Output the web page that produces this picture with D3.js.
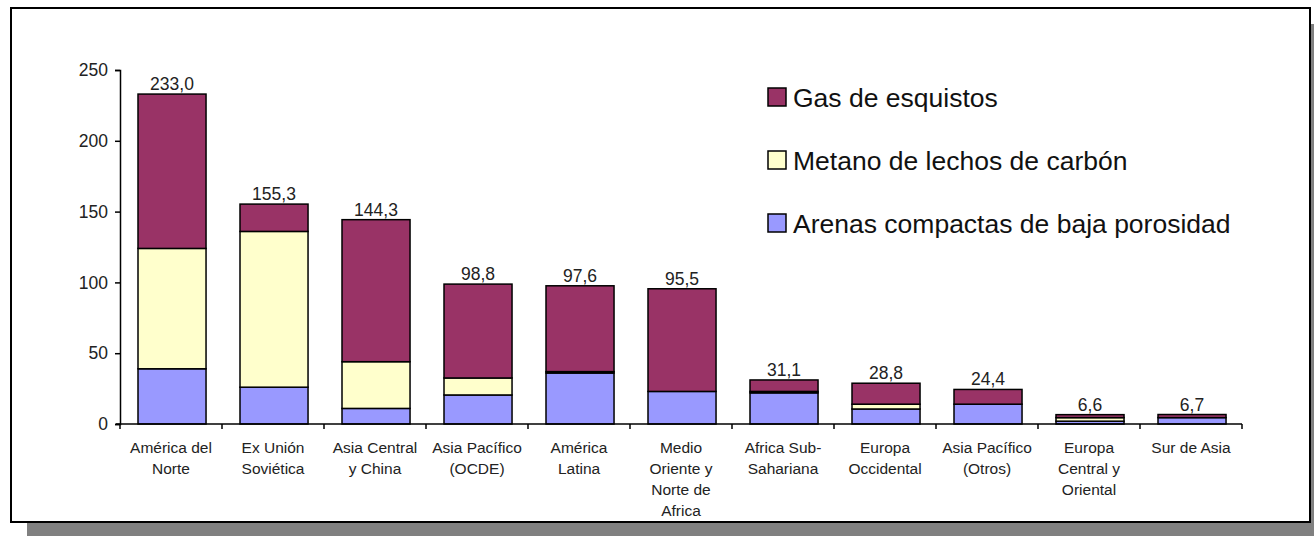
<!DOCTYPE html>
<html>
<head>
<meta charset="utf-8">
<script src="https://cdn.jsdelivr.net/npm/d3@7"></script>
<style>
  body { margin: 0; background: #fff; }
  text { font-family: "Liberation Sans", Arial, sans-serif; }
</style>
</head>
<body>
<script>
// data
const categories = [
    ["América del", "Norte"],
    ["Ex Unión", "Soviética"],
    ["Asia Central", "y China"],
    ["Asia Pacífico", "(OCDE)"],
    ["América", "Latina"],
    ["Medio", "Oriente y", "Norte de", "Africa"],
    ["Africa Sub-", "Sahariana"],
    ["Europa", "Occidental"],
    ["Asia Pacífico", "(Otros)"],
    ["Europa", "Central y", "Oriental"],
    ["Sur de Asia"]
];
const totals = ["233,0", "155,3", "144,3", "98,8", "97,6", "95,5", "31,1", "28,8", "24,4", "6,6", "6,7"];
const arenas = [39, 26, 11, 20.5, 36, 23, 22, 10.6, 14, 2, 4.5];
const metano = [85, 110, 33, 12, 1, 0, 1, 3.4, 0, 2.5, 0];
const esquistos = [109, 19.3, 100.3, 66.3, 60.6, 72.5, 8.1, 14.8, 10.4, 2.1, 2.2];
const seriesNames = ["Arenas compactas de baja porosidad", "Metano de lechos de carbón", "Gas de esquistos"];
const seriesColors = ["#9999ff", "#ffffcc", "#993366"];
const yTicks = [0, 50, 100, 150, 200, 250];

const width = 1314, height = 536;
const svg = d3.select("body").append("svg")
    .attr("width", width)
    .attr("height", height);

// shadow + frame
svg.append("rect")
    .attr("x", 27).attr("y", 24)
    .attr("width", 1300).attr("height", 520)
    .attr("fill", "#808080");
svg.append("rect")
    .attr("x", 11).attr("y", 8)
    .attr("width", 1299).attr("height", 514)
    .attr("fill", "#fff")
    .attr("stroke", "#000")
    .attr("stroke-width", 2);

let x = d3.scaleBand()
    .domain(d3.range(categories.length))
    .range([120, 1242])
    .paddingInner(0.333)
    .paddingOuter(0.1665)
    .align(0.53);
let y = d3.scaleLinear().domain([0, 250]).range([424, 70]);
let slot = 1122 / categories.length;

let rows = categories.map((c, i) => ({ i: i, a: arenas[i], m: metano[i], g: esquistos[i] }));
let stacked = d3.stack().keys(["a", "m", "g"])(rows);

stacked.forEach((layer, k) => {
    svg.append("g").selectAll("rect")
        .data(layer)
        .join("rect")
        .attr("x", d => x(d.data.i))
        .attr("y", d => y(d[1]))
        .attr("width", x.bandwidth())
        .attr("height", d => y(d[0]) - y(d[1]))
        .attr("fill", seriesColors[k])
        .attr("stroke", "#000")
        .attr("stroke-width", 1.5);
});

// value labels
svg.append("g").selectAll("text")
    .data(rows)
    .join("text")
    .attr("x", d => x(d.i) + x.bandwidth() / 2)
    .attr("y", d => y(d.a + d.m + d.g) - 4)
    .attr("text-anchor", "middle")
    .attr("font-size", 17.5)
    .attr("fill", "#222")
    .text(d => totals[d.i]);

// y axis
let yAxis = svg.append("g")
    .attr("transform", "translate(120,0)")
    .call(d3.axisLeft(y).tickValues(yTicks).tickSize(5).tickPadding(7));
yAxis.select(".domain").attr("stroke", "#000").attr("stroke-width", 1.5);
yAxis.selectAll(".tick line").attr("stroke", "#000").attr("stroke-width", 1.5);
yAxis.selectAll("text")
    .attr("font-size", 17.5)
    .attr("fill", "#222")
    .style("font-family", "Liberation Sans, Arial, sans-serif");

// x axis: baseline with ticks between the bands
let xAxis = svg.append("g");
xAxis.append("line")
    .attr("x1", 116).attr("x2", 1242)
    .attr("y1", y(0)).attr("y2", y(0))
    .attr("stroke", "#000").attr("stroke-width", 1.5);
xAxis.selectAll("line.tk")
    .data(d3.range(categories.length + 1))
    .join("line")
    .attr("class", "tk")
    .attr("x1", i => 120 + i * slot)
    .attr("x2", i => 120 + i * slot)
    .attr("y1", y(0)).attr("y2", y(0) + 5)
    .attr("stroke", "#000").attr("stroke-width", 1.5);

let labels = svg.append("g").selectAll("text")
    .data(categories)
    .join("text")
    .attr("text-anchor", "middle")
    .attr("font-size", 15.5)
    .attr("fill", "#222")
    .attr("transform", (d, i) => `translate(${120 + (i + 0.5) * slot},453)`);
labels.selectAll("tspan")
    .data(d => d)
    .join("tspan")
    .attr("x", 0)
    .attr("y", (d, j) => j * 21)
    .text(d => d);

// legend
let legendOrder = [2, 1, 0];
let legend = svg.append("g").selectAll("g")
    .data(legendOrder)
    .join("g")
    .attr("transform", (k, j) => `translate(768,${97 + j * 63})`);
legend.append("rect")
    .attr("x", 0).attr("y", -9)
    .attr("width", 18).attr("height", 18)
    .attr("fill", k => seriesColors[k])
    .attr("stroke", "#000")
    .attr("stroke-width", 1.5);
legend.append("text")
    .attr("x", 25).attr("y", 0)
    .attr("dy", "0.36em")
    .attr("font-size", 26.5)
    .attr("fill", "#111")
    .text(k => seriesNames[k]);
</script>
</body>
</html>
